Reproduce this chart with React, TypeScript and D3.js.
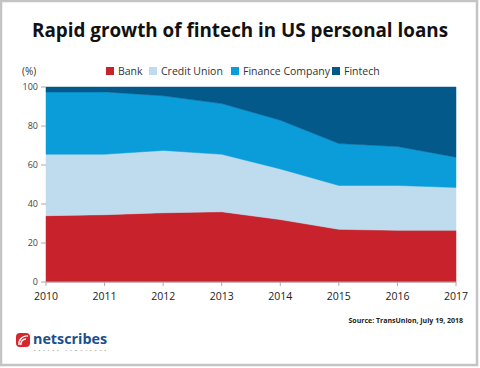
import React, { useEffect, useRef } from "react";
import * as d3 from "d3";

const years = ["2010", "2011", "2012", "2013", "2014", "2015", "2016", "2017"];
const seriesNames = ["Bank", "Credit Union", "Finance Company", "Fintech"];
const bank = [34, 34.5, 35.5, 36, 32, 27, 26.5, 26.5];
const creditUnion = [31.5, 31, 32, 29.5, 26, 22.5, 23, 22];
const financeCompany = [32, 32, 28, 26, 25, 21.5, 20, 15.5];
const fintech = [2.5, 2.5, 4.5, 8.5, 17, 29, 30.5, 36];
const yTicks = [0, 20, 40, 60, 80, 100];

const colors = ["#c8232c", "#bfdcee", "#0a9dd9", "#03598a"];

const App: React.FC = () => {
  const svgRef = useRef<SVGSVGElement | null>(null);

  useEffect(() => {
    if (!svgRef.current) return;
    const svg = d3.select(svgRef.current);
    svg.selectAll("*").remove();

    const width = 480;
    const height = 368;

    // frame
    svg.append("rect")
      .attr("x", 1).attr("y", 1)
      .attr("width", width - 4).attr("height", height - 4)
      .attr("fill", "#fff")
      .attr("stroke", "#c4c4c4")
      .attr("stroke-width", 2.5);

    svg.append("text")
      .attr("x", 240).attr("y", 37)
      .attr("text-anchor", "middle")
      .attr("font-family", "Open Sans, sans-serif")
      .attr("font-weight", "bold")
      .attr("font-size", 20)
      .attr("textLength", 416)
      .attr("lengthAdjust", "spacingAndGlyphs")
      .attr("fill", "#111")
      .text("Rapid growth of fintech in US personal loans");

    const x = d3.scalePoint<string>().domain(years).range([46, 456]);
    const y = d3.scaleLinear().domain([0, 100]).range([282, 87]);

    const table = years.map((yr, i) => ({
      year: yr,
      Bank: bank[i],
      "Credit Union": creditUnion[i],
      "Finance Company": financeCompany[i],
      Fintech: fintech[i],
    }));

    const stacked = d3.stack<any>().keys(seriesNames)(table);

    const area = d3.area<any>()
      .x((d) => x(d.data.year)!)
      .y0((d) => y(d[0]))
      .y1((d) => y(d[1]));

    svg.append("g")
      .selectAll("path")
      .data(stacked)
      .join("path")
      .attr("d", area as any)
      .attr("fill", (_, i) => colors[i])
      .attr("stroke", (_, i) => colors[i])
      .attr("stroke-width", 0.5);

    // y axis
    const yAxis = svg.append("g")
      .attr("font-family", "Open Sans, sans-serif")
      .attr("font-size", 9)
      .attr("fill", "#444");
    yTicks.forEach((t) => {
      yAxis.append("line")
        .attr("x1", 41).attr("x2", 46)
        .attr("y1", y(t)).attr("y2", y(t))
        .attr("stroke", "#aaa");
      yAxis.append("text")
        .attr("x", 38).attr("y", y(t) + 3)
        .attr("text-anchor", "end")
        .text(t);
    });

    svg.append("line")
      .attr("x1", 46).attr("x2", 456)
      .attr("y1", y(0)).attr("y2", y(0))
      .attr("stroke", "#aaa");

    // x axis
    const xAxis = svg.append("g")
      .attr("font-family", "Open Sans, sans-serif")
      .attr("font-size", 10.5)
      .attr("fill", "#222");
    years.forEach((yr) => {
      xAxis.append("line")
        .attr("x1", x(yr)!).attr("x2", x(yr)!)
        .attr("y1", y(0)).attr("y2", y(0) + 4)
        .attr("stroke", "#aaa");
      xAxis.append("text")
        .attr("x", x(yr)!).attr("y", 300)
        .attr("text-anchor", "middle")
        .text(yr);
    });

    svg.append("text")
      .attr("x", 22).attr("y", 75)
      .attr("font-family", "Open Sans, sans-serif")
      .attr("font-size", 10)
      .attr("fill", "#333")
      .text("(%)");

    // legend
    const legendX = [106, 149, 231, 332];
    const legend = svg.append("g")
      .attr("font-family", "Open Sans, sans-serif")
      .attr("font-size", 10.5)
      .attr("fill", "#333");
    seriesNames.forEach((name, i) => {
      legend.append("rect")
        .attr("x", legendX[i]).attr("y", 67)
        .attr("width", 8).attr("height", 8)
        .attr("fill", colors[i]);
      legend.append("text")
        .attr("x", legendX[i] + 12).attr("y", 75)
        .text(name);
    });

    svg.append("text")
      .attr("x", 463).attr("y", 323)
      .attr("text-anchor", "end")
      .attr("font-family", "Open Sans, sans-serif")
      .attr("font-weight", "bold")
      .attr("font-size", 7)
      .attr("fill", "#222")
      .text("Source: TransUnion, July 19, 2018");

    // logo
    const logo = svg.append("g");
    logo.append("rect")
      .attr("x", 16).attr("y", 333)
      .attr("width", 14).attr("height", 14)
      .attr("rx", 4)
      .attr("fill", "#d7262d");
    logo.append("path")
      .attr("d", "M19,345 A8,8 0 0 1 28,336 M21,345 A5,5 0 0 1 26,339")
      .attr("fill", "none")
      .attr("stroke", "#fff")
      .attr("stroke-width", 1.4);
    logo.append("text")
      .attr("x", 33).attr("y", 344)
      .attr("font-family", "Open Sans, sans-serif")
      .attr("font-weight", "bold")
      .attr("font-size", 14)
      .attr("textLength", 74)
      .attr("lengthAdjust", "spacingAndGlyphs")
      .attr("fill", "#1a4f8b")
      .text("netscribes");
    logo.append("text")
      .attr("x", 34).attr("y", 351)
      .attr("font-family", "Open Sans, sans-serif")
      .attr("font-size", 2.5)
      .attr("textLength", 72)
      .attr("lengthAdjust", "spacing")
      .attr("fill", "#555")
      .text("BETTER KNOWLEDGE");
  }, []);

  return (
    <svg
      ref={svgRef}
      width={480}
      height={368}
      style={{ position: "fixed", top: 0, left: 0, background: "#fff" }}
    />
  );
};

export default App;
